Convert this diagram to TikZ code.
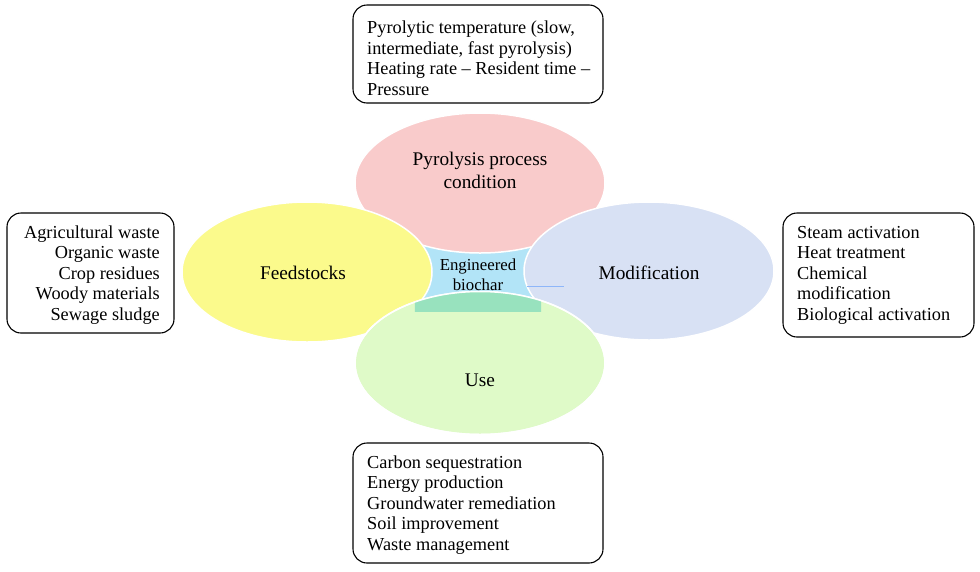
\documentclass[tikz,border=0pt]{standalone}
\usepackage{fontspec}
\setmainfont{Liberation Serif}
\usetikzlibrary{shapes.geometric}
\definecolor{pinkE}{RGB}{249,203,203}
\definecolor{yellowE}{RGB}{251,250,140}
\definecolor{blueE}{RGB}{216,225,244}
\definecolor{greenE}{RGB}{223,250,200}
\definecolor{coreE}{RGB}{178,228,247}
\definecolor{tealE}{RGB}{152,226,190}
\tikzset{
  infobox/.style={draw=black, line width=1.1pt, rounded corners=14pt, fill=white, inner sep=0pt},
  txt/.style={font=\fontsize{18.3}{20.5}\selectfont, inner sep=0pt},
  petal/.style={ellipse, draw=white, line width=1.5pt, inner sep=0pt},
  lbl/.style={font=\fontsize{19.3}{23}\selectfont, align=center, inner sep=0pt},
}
\begin{document}
\begin{tikzpicture}[x=1pt,y=-1pt]
\useasboundingbox (0,0) rectangle (980,571);
\fill[white] (0,0) rectangle (980,571);

% centre
\node[fill=coreE, minimum width=126pt, minimum height=84pt, inner sep=0pt] (core) at (478,269) {};

% petals
\node[petal, fill=pinkE, minimum width=250pt, minimum height=140pt] (pyro) at (480,183) {};
\node[petal, fill=yellowE, minimum width=250pt, minimum height=140pt] (feed) at (307,272) {};
\node[petal, fill=blueE, minimum width=250pt, minimum height=138pt] (modi) at (649,271) {};
\node[petal, fill=greenE, minimum width=250pt, minimum height=143pt] (use) at (480,363) {};

\begin{scope}
  \clip (core.south west) rectangle (core.north east);
  \fill[tealE] (use.center) ellipse [x radius=125pt, y radius=71.5pt];
\end{scope}
\draw[white, line width=1.5pt] (use.center) ellipse [x radius=125pt, y radius=71.5pt];

\coordinate (tick1) at (527,286);
\coordinate (tick2) at (564,286);
\draw[coreE!80!blue, line width=0.5pt] (tick1) -- (tick2);

% labels
\node[lbl] (pyrol) at (480,170) {Pyrolysis process\\condition};
\node[lbl] (feedl) at (303,273) {Feedstocks};
\node[lbl] (modil) at (649,273) {Modification};
\node[lbl] (usel) at (480,380) {Use};
\node[font=\fontsize{16.8}{20}\selectfont, align=center, inner sep=0pt] (corel) at (478,275) {Engineered\\biochar};

% info boxes
\node[infobox, minimum width=250pt, minimum height=98pt] (topbox) at (478,54) {};
\node[txt, align=left, anchor=west] (toptxt) at (367,58) {Pyrolytic temperature (slow,\\intermediate, fast pyrolysis)\\Heating rate -- Resident time --\\Pressure};

\node[infobox, minimum width=167pt, minimum height=120pt] (leftbox) at (90.5,273) {};
\node[txt, align=right, anchor=east] (lefttxt) at (160,275) {Agricultural waste\\Organic waste\\Crop residues\\Woody materials\\Sewage sludge};

\node[infobox, minimum width=191pt, minimum height=124pt] (rightbox) at (878.5,275) {};
\node[txt, align=left, anchor=west] (righttxt) at (797,275) {Steam activation\\Heat treatment\\Chemical\\modification\\Biological activation};

\node[infobox, minimum width=250pt, minimum height=120pt] (botbox) at (478,503) {};
\node[txt, align=left, anchor=west] (bottxt) at (367,505) {Carbon sequestration\\Energy production\\Groundwater remediation\\Soil improvement\\Waste management};
\end{tikzpicture}
\end{document}
